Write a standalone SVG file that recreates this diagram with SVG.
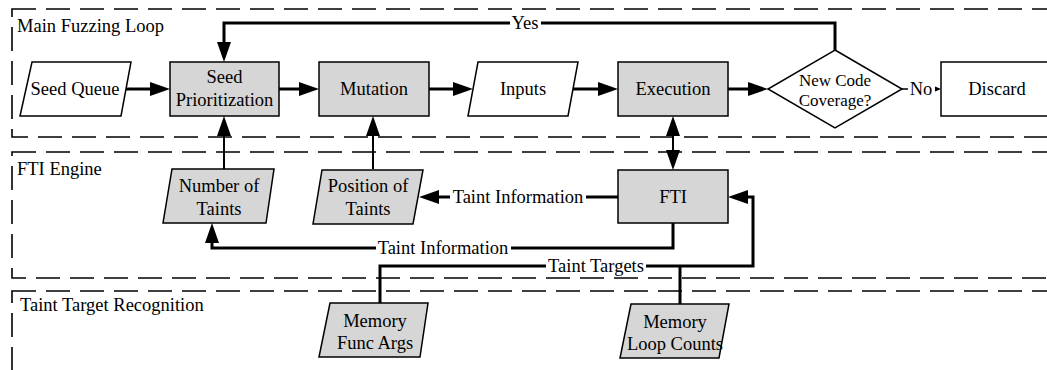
<svg xmlns="http://www.w3.org/2000/svg" width="1047" height="370" viewBox="0 0 1047 370" font-family="'Liberation Serif', 'DejaVu Serif', serif">
<defs>
<style>
.frame{fill:none;stroke:#000;stroke-width:1.6;stroke-dasharray:24 10}
.n{stroke:#000;stroke-width:1.5}
.w{fill:#fff}
.g{fill:#d6d6d6}
text{font-family:'Liberation Serif','DejaVu Serif',serif;font-size:18.5px;fill:#000}
.c{text-anchor:middle}
.d{font-size:17px}
.e{fill:none;stroke:#000;stroke-width:3}
.t{stroke-width:2}
.thin{stroke-width:1.5}
.bg{fill:#fff}
</style>
<marker id="a" viewBox="0 0 20 14" refX="8" refY="7" markerWidth="20" markerHeight="14" markerUnits="userSpaceOnUse" orient="auto-start-reverse">
<path d="M0,0 L20,7 L0,14 Z" fill="#000"/>
</marker>
<marker id="s" viewBox="0 0 7 6" refX="4" refY="3" markerWidth="7" markerHeight="6" markerUnits="userSpaceOnUse" orient="auto">
<path d="M0,0 L7,3 L0,6 Z" fill="#000"/>
</marker>
</defs>
<rect width="1047" height="370" fill="#fff"/>

<g id="containers">
<rect class="frame" x="12" y="9" width="1100" height="128"/>
<rect class="frame" x="12" y="152" width="1100" height="126"/>
<rect class="frame" x="12" y="291" width="1100" height="130"/>
<text x="17" y="32">Main Fuzzing Loop</text>
<text x="17" y="175">FTI Engine</text>
<text x="20" y="311">Taint Target Recognition</text>
</g>

<g id="connectors">
<path class="e" d="M126,89 H158" marker-end="url(#a)"/>
<path class="e" d="M279,89 H307" marker-end="url(#a)"/>
<path class="e" d="M429,89 H461" marker-end="url(#a)"/>
<path class="e" d="M573,89 H606" marker-end="url(#a)"/>
<path class="e" d="M728,89 H756" marker-end="url(#a)"/>
<path class="e thin" d="M902,89 H938" marker-end="url(#s)"/>
<path class="e" d="M835,50 V23 H224 V50" marker-end="url(#a)"/>
<path class="e t" d="M224,169 V128" marker-end="url(#a)"/>
<path class="e t" d="M373,169 V128" marker-end="url(#a)"/>
<path class="e t" d="M673,128 V158" marker-start="url(#a)" marker-end="url(#a)"/>
<path class="e" d="M618,197 H431" marker-end="url(#a)"/>
<path class="e" d="M673,223 V248 H212 V235" marker-end="url(#a)"/>
<path class="e" d="M380,303 V266 H753 V197 H740" marker-end="url(#a)"/>
<path class="e" d="M680,304 V266"/>
<rect class="bg" x="510" y="15" width="31" height="16"/>
<text class="c" x="525" y="29">Yes</text>
<rect class="bg" x="908" y="80" width="27" height="17"/>
<text class="c" x="921" y="95">No</text>
<rect class="bg" x="450" y="188" width="136" height="17"/>
<text class="c" x="518" y="203">Taint Information</text>
<rect class="bg" x="376" y="239" width="135" height="17"/>
<text class="c" x="443" y="254">Taint Information</text>
<rect class="bg" x="546" y="257" width="100" height="17"/>
<text class="c" x="596" y="272">Taint Targets</text>
</g>

<g id="seed-queue">
<polygon class="n w" points="32,62 131,62 121,116 20,116"/>
<text class="c" x="75" y="95">Seed Queue</text>
</g>
<g id="seed-prioritization">
<rect class="n g" x="170" y="62" width="109" height="54"/>
<text class="c" x="224.5" y="83">Seed</text>
<text class="c" x="224.5" y="106">Prioritization</text>
</g>
<g id="mutation">
<rect class="n g" x="319" y="62" width="110" height="54"/>
<text class="c" x="374" y="95">Mutation</text>
</g>
<g id="inputs">
<polygon class="n w" points="478,62 578,62 568,116 468,116"/>
<text class="c" x="523" y="95">Inputs</text>
</g>
<g id="execution">
<rect class="n g" x="618" y="62" width="110" height="54"/>
<text class="c" x="673" y="95">Execution</text>
</g>
<g id="new-code-coverage">
<polygon class="n w" points="835,50 902,89 835,128 768,89"/>
<text class="c d" x="835" y="85.5">New Code</text>
<text class="c d" x="835" y="106">Coverage?</text>
</g>
<g id="discard">
<rect class="n w" x="941" y="62" width="112" height="54"/>
<text class="c" x="997" y="95">Discard</text>
</g>
<g id="number-of-taints">
<polygon class="n g" points="172,169 274,169 266,223 163,223"/>
<text class="c" x="219" y="192">Number of</text>
<text class="c" x="219" y="215">Taints</text>
</g>
<g id="position-of-taints">
<polygon class="n g" points="322,170 423,170 413,224 313,224"/>
<text class="c" x="368" y="192">Position of</text>
<text class="c" x="368" y="215">Taints</text>
</g>
<g id="fti">
<rect class="n g" x="618" y="170" width="110" height="53"/>
<text class="c" x="673" y="203">FTI</text>
</g>
<g id="memory-func-args">
<polygon class="n g" points="330,303 428,303 420,357 319,357"/>
<text class="c" x="375" y="327">Memory</text>
<text class="c" x="375" y="349">Func Args</text>
</g>
<g id="memory-loop-counts">
<polygon class="n g" points="631,304 729,304 719,358 620,358"/>
<text class="c" x="675" y="328">Memory</text>
<text class="c" x="675" y="350">Loop Counts</text>
</g>
</svg>
